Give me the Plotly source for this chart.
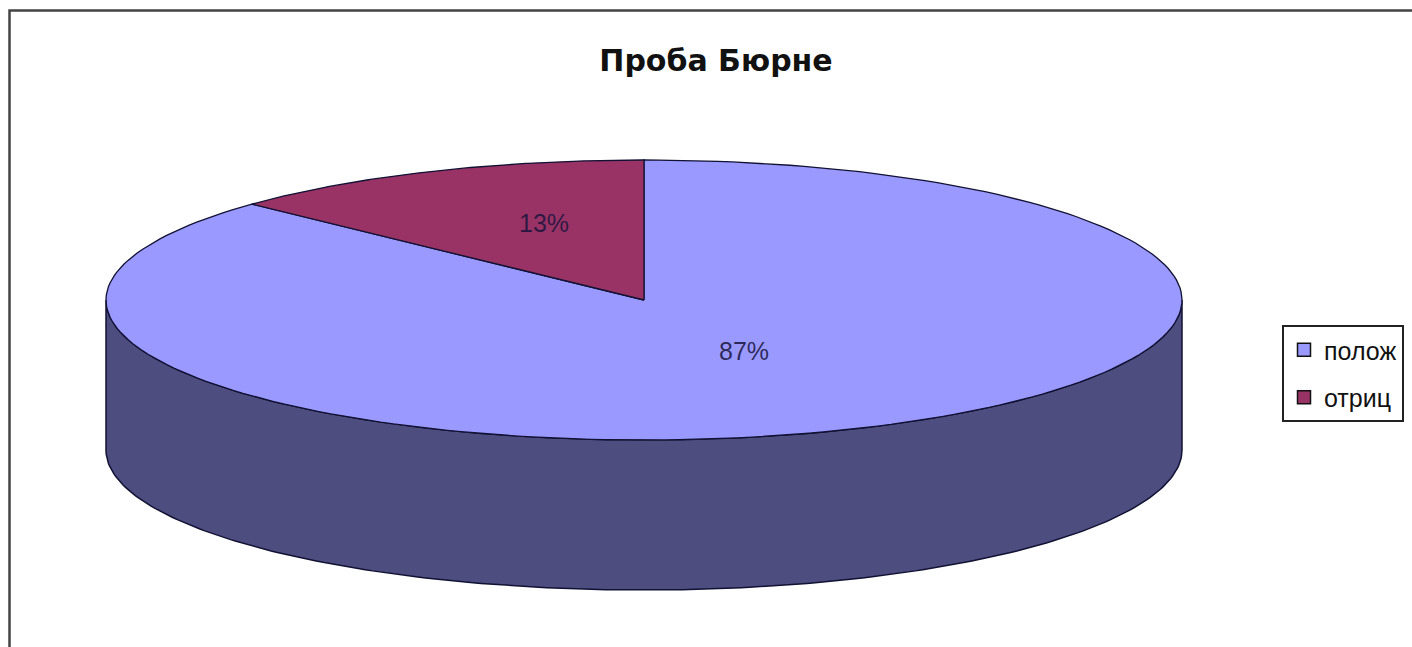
import numpy as np
import plotly.graph_objects as go

# ---- data ----
labels = ["полож", "отриц"]
values = [87, 13]
top_colors = ["#9999ff", "#993366"]
side_colors = ["#4d4d80", "#4d1a33"]
title_text = "Проба Бюрне"

# ---- geometry (pixel space) ----
W, H = 1412, 647
CX, CY, RX, RY, DEPTH = 644, 300, 538, 140, 150
START = 90.0  # degrees, slices run clockwise


def pt(theta_deg, dy=0.0):
    t = np.radians(theta_deg)
    return CX + RX * np.cos(t), CY - RY * np.sin(t) + dy


def arc(a_from, a_to, dy=0.0, n=200):
    th = np.linspace(a_from, a_to, n)
    xs, ys = pt(th, dy)
    return list(xs), list(ys)


total = float(sum(values))
spans = []
a = START
for v in values:
    a1 = a - v / total * 360.0
    spans.append((a, a1))
    a = a1

fig = go.Figure()

# side walls (front half only)
for (a0, a1), col in zip(spans, side_colors):
    lo, hi = min(a0, a1), max(a0, a1)
    for k in range(-3, 3):
        flo, fhi = -180 + 360 * k, 0 + 360 * k
        s, e = max(lo, flo), min(hi, fhi)
        if e > s:
            xt, yt = arc(s, e)
            xb, yb = arc(e, s, DEPTH)
            fig.add_trace(go.Scatter(x=xt + xb + [xt[0]], y=yt + yb + [yt[0]],
                                     mode="lines", fill="toself", fillcolor=col,
                                     line=dict(color="#111133", width=1.5),
                                     showlegend=False, hoverinfo="skip"))

# top faces
for (a0, a1), col in zip(spans, top_colors):
    xa, ya = arc(a0, a1)
    xs = [CX] + xa + [CX]
    ys = [CY] + ya + [CY]
    fig.add_trace(go.Scatter(x=xs, y=ys, mode="lines", fill="toself", fillcolor=col,
                             line=dict(color="#111133", width=1.3),
                             showlegend=False, hoverinfo="skip"))

# percentage labels
for (a0, a1), v in zip(spans, values):
    mid = (a0 + a1) / 2
    lx = CX + RX * 0.47 * np.cos(np.radians(mid))
    ly = CY - RY * 0.5 * np.sin(np.radians(mid)) - 13
    fig.add_annotation(x=lx, y=ly, text=f"{round(v / total * 100)}%", showarrow=False,
                       font=dict(family="Liberation Sans", size=25, color="rgba(25,20,60,0.85)"))

# legend entries
for lab, col, gi in zip(labels, top_colors, range(len(labels))):
    fig.add_trace(go.Scatter(x=[None], y=[None], mode="markers", name=lab,
                             legendgroup=f"g{gi}",
                             marker=dict(symbol="square", size=13, color=col,
                                         line=dict(color="#111", width=1.5))))

# frame
fig.add_shape(type="rect", x0=9.5, y0=10.5, x1=W + 20, y1=H + 20,
              line=dict(color="#444", width=2.5), layer="above")

fig.update_layout(
    width=W, height=H,
    margin=dict(l=0, r=0, t=0, b=0),
    paper_bgcolor="white", plot_bgcolor="white",
    xaxis=dict(range=[0, W], visible=False, fixedrange=True),
    yaxis=dict(range=[H, 0], visible=False, fixedrange=True),
    title=dict(text=f"<b>{title_text}</b>", x=716 / W, xanchor="center",
               y=1 - 60 / H, yanchor="middle",
               font=dict(family="DejaVu Sans", size=30, color="#111")),
    showlegend=True,
    legend=dict(x=1282 / W, xanchor="left", y=1 - 325 / H, yanchor="top",
                bordercolor="#222", borderwidth=2, bgcolor="white",
                font=dict(family="Liberation Sans", size=25, color="#111"),
                tracegroupgap=12, itemwidth=30),
)

fig.write_html("out.html")
